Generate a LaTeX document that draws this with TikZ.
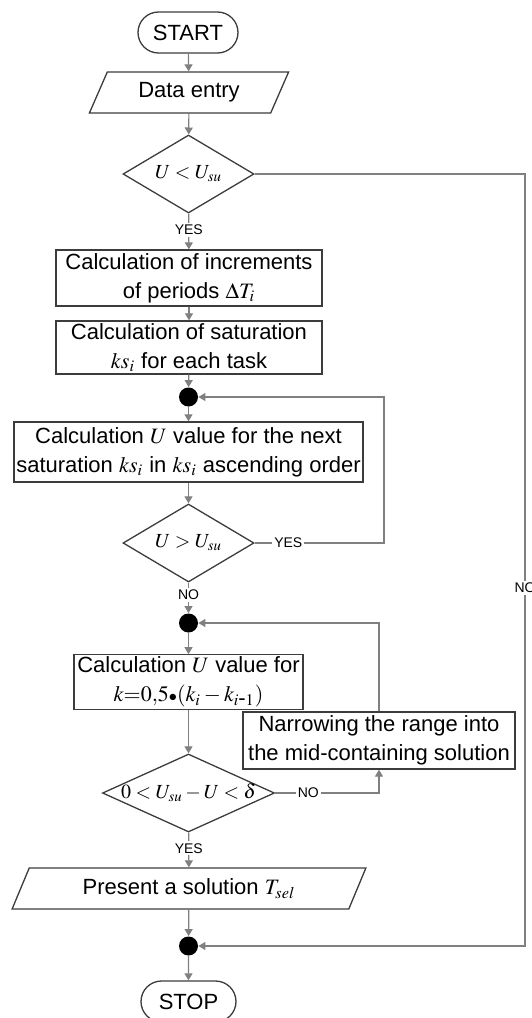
\documentclass[tikz,border=0pt]{standalone}
\usepackage{mathptmx}
\usepackage[no-math]{fontspec}
\setmainfont{Liberation Sans}
\usetikzlibrary{shapes.geometric,shapes.misc,arrows.meta,positioning,calc}
\definecolor{LineGray}{RGB}{128,128,128}
\definecolor{EdgeDark}{RGB}{60,60,60}
\begin{document}
\begin{tikzpicture}[x=0.5pt,y=-0.5pt,
  base/.style={draw=EdgeDark,line width=0.65pt,align=center,
               font=\fontsize{11}{14.5}\selectfont,inner sep=1pt},
  term/.style={base,rounded rectangle,minimum height=20.5pt},
  io/.style={base,trapezium,trapezium left angle=64,trapezium right angle=116,
             trapezium stretches=true,minimum height=20.5pt},
  box/.style={base,rectangle},
  decision/.style={base,diamond,inner sep=0pt,minimum width=65.5pt,minimum height=39pt},
  junction/.style={circle,fill=black,inner sep=0pt,minimum size=9.5pt},
  lbl/.style={fill=white,inner sep=1pt,font=\fontsize{7}{8}\selectfont},
  flow/.style={draw=LineGray,line width=0.6pt,-{Triangle[length=3.5pt,width=4pt]}},
]
\useasboundingbox (0,0) rectangle (531,1018);
\node[term,minimum width=52pt] (start) at (188,32.5) {START};
\node[io,minimum width=100pt] (entry) at (189,92.5) {Data entry};
\node[decision,label=center:{$U<U_{su}$}] (cond1) at (188.5,174) {};
\node[box,minimum width=133pt,minimum height=28pt] (incr) at (189,278)
  {Calculation of increments\\of periods $\Delta T_i$};
\node[box,minimum width=133pt,minimum height=26.5pt] (satur) at (189,347.5)
  {Calculation of saturation\\$ks_i$ for each task};
\node[junction] (jn1) at (188.5,397) {};
\node[box,minimum width=174.5pt,minimum height=30pt] (calcU) at (188.5,452)
  {Calculation $U$ value for the next\\saturation $ks_i$ in $ks_i$ ascending order};
\node[decision,label=center:{$U>U_{su}$}] (cond2) at (188.5,543) {};
\node[junction] (jn2) at (188.5,623) {};
\node[box,minimum width=114.5pt,minimum height=25pt] (calcK) at (188.5,682)
  {Calculation $U$ value for\\$k{=}0{,}5{\scriptstyle\bullet}(k_i-k_{i\mbox{-}1})$};
\node[box,minimum width=136pt,minimum height=28.5pt] (narrow) at (379,740.5)
  {Narrowing the range into\\the mid-containing solution};
\node[decision,minimum width=86pt,label=center:{$0<U_{su}-U<\delta$}] (cond3) at (188.5,793) {};
\node[io,minimum width=177pt] (present) at (189,888.5) {Present a solution $T_{sel}$};
\node[junction] (jn3) at (188.5,946) {};
\node[term,minimum width=49.5pt] (stop) at (188.5,1001.5) {STOP};
\coordinate (rgt1) at (384,397);
\coordinate (rgt0) at (525,946);
% main line
\draw[flow] (start) -- (entry);
\draw[flow] (entry) -- (cond1);
\draw[flow] (cond1) -- node[lbl,pos=0.45]{YES} (incr);
\draw[flow] (incr) -- (satur);
\draw[flow] (satur) -- (jn1);
\draw[flow] (jn1) -- (calcU);
\draw[flow] (calcU) -- (cond2);
\draw[flow] (cond2) -- node[lbl,pos=0.4]{NO} (jn2);
\draw[flow] (jn2) -- (calcK);
\draw[flow] (calcK) -- (cond3);
\draw[flow] (cond3) -- node[lbl,pos=0.45]{YES} (present);
\draw[flow] (present) -- (jn3);
\draw[flow] (jn3) -- (stop);
% loops
\draw[flow] (cond2.east) -- node[lbl,pos=0.26]{YES} (cond2.east -| rgt1) -- (rgt1) -- (jn1);
\draw[flow] (cond3.east) -| node[lbl,pos=0.16]{NO} (narrow.south);
\draw[flow] (narrow.north) |- (jn2);
\draw[flow] (cond1.east) -| node[lbl,pos=0.768]{NO} (rgt0) -- (jn3);
\end{tikzpicture}
\end{document}
